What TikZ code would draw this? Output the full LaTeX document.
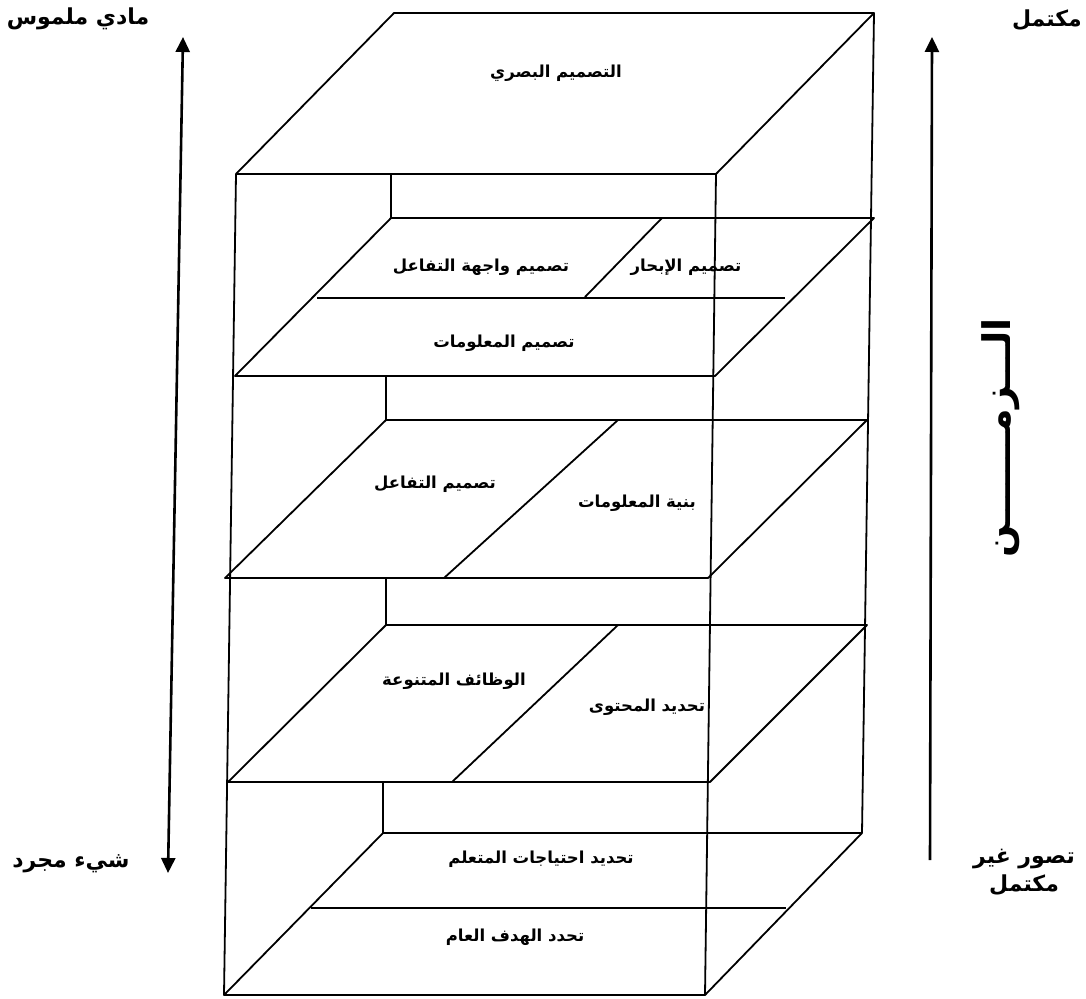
\documentclass[tikz,border=0pt]{standalone}
\usepackage{fontspec}
\newfontfamily\arabicfont[Script=Arabic]{DejaVu Sans}
\TeXXeTstate=1
\usetikzlibrary{arrows.meta,calc}
\newcommand{\artext}[1]{\beginR #1\endR}
\tikzset{
  >={Triangle[length=15pt,width=14pt]},
  edge/.style={line width=1.8pt, line join=round},
  lbl/.style={font=\arabicfont\bfseries\fontsize{16.5}{19}\selectfont, inner sep=0pt},
  side/.style={font=\arabicfont\bfseries\fontsize{22}{28}\selectfont, inner sep=0pt, align=center},
  axis/.style={line width=2.6pt},
}

\begin{document}
\begin{tikzpicture}[x=1pt, y=-1pt,
  timelbl/.style={font=\arabicfont\bfseries\fontsize{38}{38}\selectfont, inner sep=0pt, rotate=90}]
  \useasboundingbox (0,0) rectangle (1086,998);
  % the five layers, top to bottom
  \foreach \n/\tl/\tr/\br/\bl in {
      p1/{394,13}/{874,13}/{716,174}/{236,174},
      p2/{391,218}/{874,218}/{715,376}/{235,376},
      p3/{386,420}/{867,420}/{708,578}/{225,578},
      p4/{386,625}/{867,625}/{710,782}/{228,782},
      p5/{383,833}/{862,833}/{705,995}/{224,995}} {
    \coordinate (\n-tl) at (\tl);
    \coordinate (\n-tr) at (\tr);
    \coordinate (\n-br) at (\br);
    \coordinate (\n-bl) at (\bl);
    \draw[edge] (\n-tl) -- (\n-tr) -- (\n-br) -- (\n-bl) -- cycle;
  }
  \foreach \a/\b in {p1/p2, p2/p3, p3/p4, p4/p5}
    \draw[edge] (\b-tl) -- (\b-tl |- \a-bl);
  \draw[edge] (p1-bl) -- (p5-bl) (p1-br) -- (p5-br) (p1-tr) -- (p5-tr);
  % splits inside the layers
  \draw[edge] (317,298) -- (785,298);
  \draw[edge] (662,218) -- (585,297);
  \draw[edge] (618,420) -- (444,578);
  \draw[edge] (618,625) -- (452,782);
  \draw[edge] (311,908) -- (786,908);
  \node[lbl] (visual) at (556,73) {\artext{التصميم البصري}};
  \node[lbl] (iface) at (481,267) {\artext{تصميم واجهة التفاعل}};
  \node[lbl] (nav) at (686,267) {\artext{تصميم الإبحار}};
  \node[lbl] (infod) at (504,343) {\artext{تصميم المعلومات}};
  \node[lbl] (inter) at (435,484) {\artext{تصميم التفاعل}};
  \node[lbl] (infoa) at (637,503) {\artext{بنية المعلومات}};
  \node[lbl] (funcs) at (454,681) {\artext{الوظائف المتنوعة}};
  \node[lbl] (content) at (647,707) {\artext{تحديد المحتوى}};
  \node[lbl] (needs) at (541,859) {\artext{تحديد احتياجات المتعلم}};
  \node[lbl] (goal) at (515,937) {\artext{تحدد الهدف العام}};
  % the two scales
  \coordinate (c-top) at (183,37);
  \coordinate (c-bot) at (168,873);
  \coordinate (t-top) at (932,37);
  \coordinate (t-bot) at (930,860);
  \draw[axis, <->] (c-top) -- (c-bot);
  \draw[axis, ->] (t-bot) -- (t-top);
  \node[side] (concrete) at (78,19) {\artext{مادي ملموس}};
  \node[side] (abstract) at (71,864) {\artext{شيء مجرد}};
  \node[side, anchor=east] (complete) at (1082,20) {\artext{مكتمل}};
  \node[side] (partial) at (1024,872) {\artext{تصور غير}\\\artext{مكتمل}};
  \node[timelbl] (time) at (1001,438) {\artext{الـــزمـــــــن}};
\end{tikzpicture}
\end{document}
